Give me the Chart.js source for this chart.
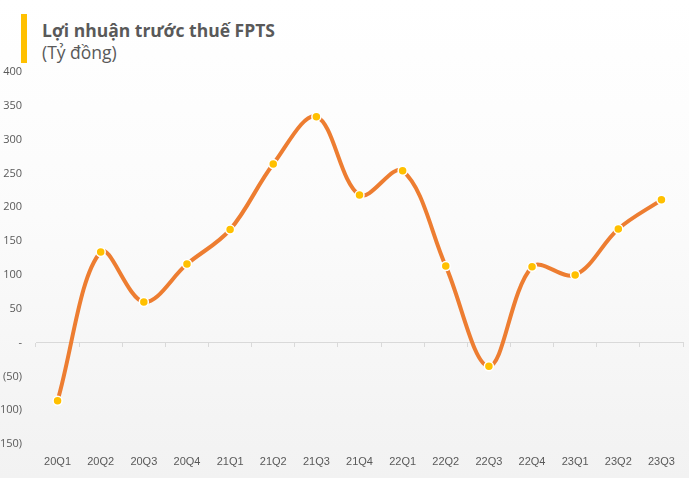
<!DOCTYPE html>
<html>
<head>
<meta charset="utf-8">
<script src="https://cdn.jsdelivr.net/npm/chart.js@4"></script>
<style>
    html, body {
        margin: 0;
        padding: 0;
        width: 689px;
        height: 478px;
        overflow: hidden;
        background: linear-gradient(to bottom, #ffffff 0%, #fbfbfb 45%, #f2f2f2 100%);
        font-family: "Open Sans", sans-serif;
    }
    .bar {
        position: absolute;
        left: 21px;
        top: 14px;
        width: 6px;
        height: 49px;
        background: #FFC000;
    }
    .title {
        position: absolute;
        left: 42px;
        top: 19px;
        color: #595959;
        font-size: 17.5px;
        line-height: 22px;
    }
    .title b {
        font-weight: 700;
    }
    canvas {
        position: absolute;
        left: 0;
        top: 0;
    }
</style>
</head>
<body>
<div class="bar"></div>
<div class="title"><b>Lợi nhuận trước thuế FPTS</b><br>(Tỷ đồng)</div>
<canvas id="graphCanvas" width="689" height="478"></canvas>
<script>
const QUARTERS = ["20Q1", "20Q2", "20Q3", "20Q4", "21Q1", "21Q2", "21Q3", "21Q4",
    "22Q1", "22Q2", "22Q3", "22Q4", "23Q1", "23Q2", "23Q3"];
const PROFIT = [-86, 134, 60, 116, 167, 264, 334, 218, 254, 113, -35, 112, 100, 168, 211];

const Y_MIN = -150;
const Y_MAX = 400;
const Y_STEP = 50;

const LINE_COLOR = "#ED7D31";
const POINT_COLOR = "#FFC000";
const AXIS_COLOR = "#d9d9d9";
const LABEL_COLOR = "#595959";

const ctx = document.getElementById('graphCanvas');

const chart = new Chart(ctx, {
    type: 'line',
    data: {
        labels: QUARTERS,
        datasets: [{
            data: PROFIT,
            borderColor: LINE_COLOR,
            borderWidth: 4,
            borderCapStyle: "round",
            tension: 0.35,
            pointBackgroundColor: POINT_COLOR,
            pointBorderColor: "#ffffff",
            pointBorderWidth: 1.5,
            pointRadius: 4.5
        }]
    },
    options: {
        responsive: false,
        animation: false,
        devicePixelRatio: 1,
        layout: {
            padding: {top: 72, right: 2, bottom: 0, left: 0}
        },
        scales: {
            y: {
                min: Y_MIN,
                max: Y_MAX,
                afterFit: s => { s.width = 36; },
                ticks: {
                    stepSize: Y_STEP,
                    padding: 14,
                    color: LABEL_COLOR,
                    font: {family: "Open Sans", size: 11},
                    callback: v => v === 0 ? "-" : (v < 0 ? "(" + (-v) + ")" : v)
                },
                grid: {display: false, drawTicks: false},
                border: {display: false}
            },
            x: {
                position: "bottom",
                offset: true,
                afterFit: s => { s.height = 34; },
                ticks: {
                    padding: 3,
                    color: LABEL_COLOR,
                    font: {family: "Liberation Sans", size: 11},
                    maxRotation: 0
                },
                grid: {display: false},
                border: {display: false}
            },
            xz: {
                type: "category",
                position: {y: 0},
                offset: true,
                ticks: {display: false},
                grid: {
                    offset: true,
                    drawOnChartArea: false,
                    tickLength: 4,
                    color: AXIS_COLOR
                },
                border: {color: AXIS_COLOR, width: 1}
            }
        },
        plugins: {
            legend: {display: false},
            tooltip: {enabled: false}
        }
    }
});
</script>
</body>
</html>
